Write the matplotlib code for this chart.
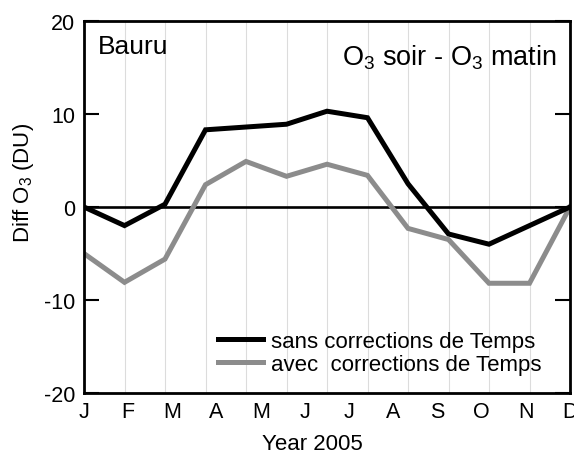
import matplotlib
matplotlib.use("Agg")
import matplotlib.pyplot as plt
import numpy as np

plt.rcParams['font.family'] = ['Liberation Sans', 'DejaVu Sans']
plt.rcParams['mathtext.fontset'] = 'custom'
plt.rcParams['mathtext.rm'] = 'Liberation Sans'
plt.rcParams['mathtext.it'] = 'Liberation Sans:italic'

# Data (13 sample points, Jan .. end of Dec)
x_idx = list(range(13))
sans_corr = [0.0, -2.0, 0.3, 8.3, 8.6, 8.9, 10.3, 9.6, 2.5, -2.9, -4.0, -2.0, 0.0]
avec_corr = [-5.0, -8.1, -5.6, 2.4, 4.9, 3.3, 4.6, 3.4, -2.3, -3.5, -8.2, -8.2, 0.0]
month_labels = ['J', 'F', 'M', 'A', 'M', 'J', 'J', 'A', 'S', 'O', 'N', 'D']
yticks = [-20, -10, 0, 10, 20]
ytick_labels = ['-20', '-10', '0', '10', '20']

fig = plt.figure(figsize=(5.74, 4.56), dpi=100)
ax = fig.add_axes([84/574, 1-394/456, (570-84)/574, (394-22)/456])

# vertical light grid
for g in x_idx[1:-1]:
    ax.axvline(g, color='#dcdcdc', lw=0.8, zorder=0)

ax.axhline(0, color='black', lw=1.9, zorder=1)

l1, = ax.plot(x_idx, sans_corr, color='black', lw=3.6, solid_joinstyle='miter', zorder=3,
              label='sans corrections de Temps')
l2, = ax.plot(x_idx, avec_corr, color='#8c8c8c', lw=3.6, solid_joinstyle='miter', zorder=2,
              label='avec  corrections de Temps')

ax.set_xlim(0, 12)
ax.set_ylim(-20, 20)

ax.set_yticks(yticks)
ax.set_yticklabels(ytick_labels)
ax.tick_params(axis='y', direction='in', length=11, width=1.5, right=True,
               labelsize=15.5, pad=6.5)
ax.set_xticks(np.linspace(0, 12, 12))
ax.set_xticklabels(month_labels)
ax.tick_params(axis='x', length=0, labelsize=15.5, pad=6)

for s in ax.spines.values():
    s.set_linewidth(2.0)

ax.text(0.029, 0.965, 'Bauru', transform=ax.transAxes, fontsize=19, ha='left', va='top')
ax.text(0.973, 0.903, r'O$_{\mathrm{3}}$ soir - O$_{\mathrm{3}}$ matin', transform=ax.transAxes,
        fontsize=19.5, ha='right', va='center')

fig.text(23/574, 1-183/456, r'Diff O$_{\mathrm{3}}$ (DU)', rotation=90, fontsize=16,
         ha='center', va='center')
fig.text(312/574, 1-445/456, 'Year 2005', fontsize=16, ha='center', va='center')

ax.legend(handles=[l1, l2], loc='upper left', bbox_to_anchor=(0.276, 0.168),
          frameon=False, fontsize=16, handlelength=2.0, handletextpad=0.4,
          labelspacing=0.12, borderpad=0, borderaxespad=0)

fig.savefig('out.png', dpi=100)
